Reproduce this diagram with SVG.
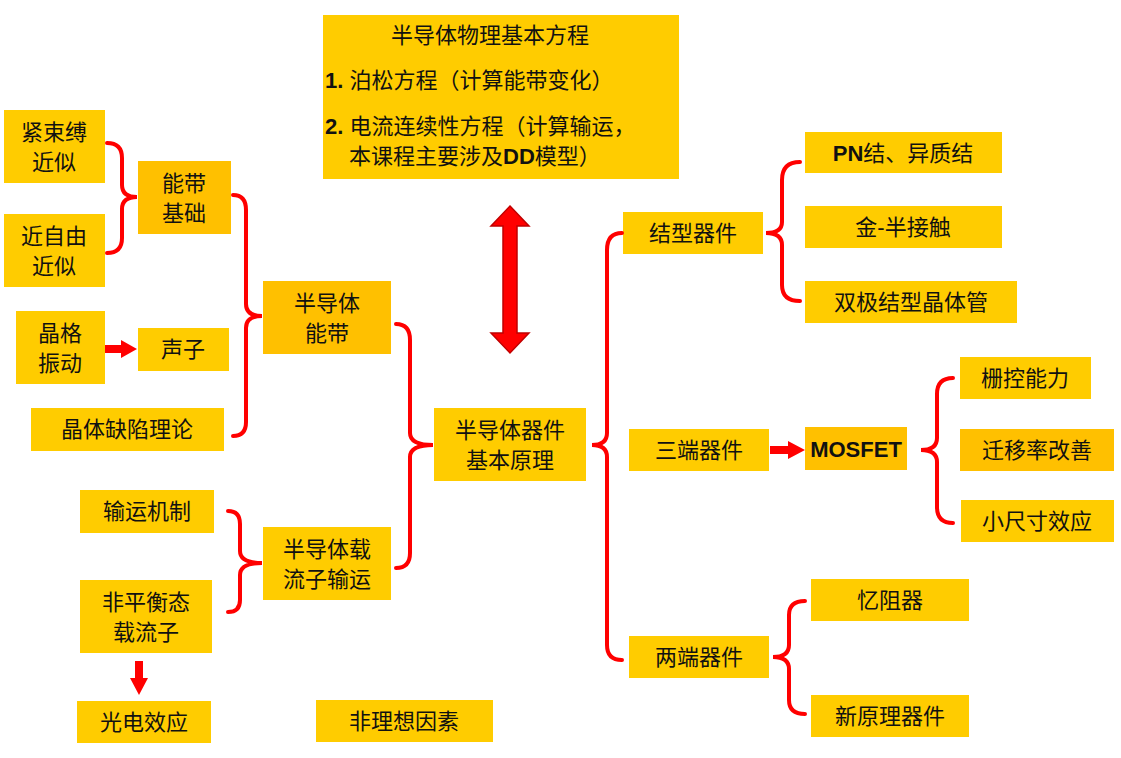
<svg xmlns="http://www.w3.org/2000/svg" width="1121" height="758" viewBox="0 0 1121 758">
<style>
.b{fill:#FFCC00}.d{fill:#FFC000}
text{font-family:"Liberation Sans","Noto Sans CJK SC",sans-serif;font-size:22px;fill:#111;text-anchor:middle}
.l{text-anchor:start}
.br{fill:none;stroke:#FF0000;stroke-width:4;stroke-linecap:round}
.ar{fill:#FF0000}
</style>
<rect width="1121" height="758" fill="#fff"/>
<g id="title"><rect class="b" x="323" y="15" width="356" height="164"/>
<text x="490" y="43">半导体物理基本方程</text>
<text class="l" x="325" y="88"><tspan font-weight="bold">1. </tspan>泊松方程（计算能带变化）</text>
<text class="l" x="325" y="134"><tspan font-weight="bold">2. </tspan>电流连续性方程（计算输运，</text>
<text class="l" x="349" y="164">本课程主要涉及<tspan font-weight="bold">DD</tspan>模型）</text></g>
<g id="n1"><rect class="b" x="4" y="110" width="101" height="73"/><text x="54" y="140">紧束缚</text><text x="54" y="170">近似</text></g>
<g id="n2"><rect class="b" x="4" y="214" width="101" height="73"/><text x="54" y="244">近自由</text><text x="54" y="274">近似</text></g>
<g id="n3"><rect class="d" x="138" y="161" width="93" height="73"/><text x="184" y="191">能带</text><text x="184" y="221">基础</text></g>
<g id="n4"><rect class="b" x="16" y="311" width="89" height="73"/><text x="60" y="341">晶格</text><text x="60" y="371">振动</text></g>
<g id="n5"><rect class="b" x="138" y="328" width="91" height="43"/><text x="183" y="357">声子</text></g>
<g id="n6"><rect class="b" x="31" y="408" width="193" height="43"/><text x="127" y="437">晶体缺陷理论</text></g>
<g id="n7"><rect class="d" x="263" y="281" width="128" height="73"/><text x="327" y="311">半导体</text><text x="327" y="341">能带</text></g>
<g id="n8"><rect class="b" x="80" y="490" width="134" height="43"/><text x="147" y="519">输运机制</text></g>
<g id="n9"><rect class="b" x="80" y="580" width="132" height="73"/><text x="146" y="610">非平衡态</text><text x="146" y="640">载流子</text></g>
<g id="n10"><rect class="b" x="263" y="527" width="128" height="73"/><text x="327" y="557">半导体载</text><text x="327" y="587">流子输运</text></g>
<g id="n11"><rect class="b" x="77" y="701" width="134" height="42"/><text x="144" y="730">光电效应</text></g>
<g id="n12"><rect class="b" x="316" y="700" width="177" height="42"/><text x="404" y="729">非理想因素</text></g>
<g id="n13"><rect class="b" x="434" y="408" width="152" height="73"/><text x="510" y="438">半导体器件</text><text x="510" y="468">基本原理</text></g>
<g id="n14"><rect class="b" x="623" y="212" width="140" height="42"/><text x="693" y="241">结型器件</text></g>
<g id="n15"><rect class="b" x="629" y="429" width="140" height="42"/><text x="699" y="458">三端器件</text></g>
<g id="n16"><rect class="b" x="629" y="636" width="140" height="42"/><text x="699" y="665">两端器件</text></g>
<g id="n17"><rect class="b" x="805" y="132" width="197" height="41"/><text x="903" y="161"><tspan font-weight="bold">PN</tspan>结、异质结</text></g>
<g id="n18"><rect class="b" x="805" y="206" width="197" height="42"/><text x="903" y="235">金-半接触</text></g>
<g id="n19"><rect class="b" x="805" y="281" width="212" height="42"/><text x="911" y="310">双极结型晶体管</text></g>
<g id="n20"><rect class="d" x="805" y="427" width="102" height="43"/><text x="856" y="457" font-weight="bold">MOSFET</text></g>
<g id="n21"><rect class="b" x="960" y="357" width="131" height="42"/><text x="1025" y="386">栅控能力</text></g>
<g id="n22"><rect class="d" x="960" y="429" width="154" height="42"/><text x="1037" y="458">迁移率改善</text></g>
<g id="n23"><rect class="b" x="961" y="500" width="153" height="42"/><text x="1037" y="529">小尺寸效应</text></g>
<g id="n24"><rect class="b" x="811" y="579" width="158" height="42"/><text x="890" y="608">忆阻器</text></g>
<g id="n25"><rect class="b" x="811" y="695" width="158" height="42"/><text x="890" y="724">新原理器件</text></g>
<g id="connectors">
<path class="br" d="M107,143 Q122,143 122,158 L122,185 Q122,197 137,197 Q122,197 122,209 L122,238 Q122,253 107,253"/>
<path class="br" d="M233,195 Q246,195 246,210 L246,304 Q246,316 262,316 Q246,316 246,328 L246,422 Q246,436 233,436"/>
<path class="br" d="M396,324 Q410,324 410,340 L410,433 Q410,445 433,445 Q410,445 410,457 L410,553 Q410,568 396,568"/>
<path class="br" d="M228,511 Q240,511 240,524 L240,551 Q240,563 262,563 Q240,563 240,575 L240,600 Q240,612 228,612"/>
<path class="br" d="M622,233 Q607,233 607,250 L607,433 Q607,445 592,445 Q607,445 607,457 L607,645 Q607,660 622,660"/>
<path class="br" d="M800,162 Q782,162 782,180 L782,222 Q782,233 766,233 Q782,233 782,245 L782,285 Q782,301 800,301"/>
<path class="br" d="M953,378 Q937,378 937,394 L937,438 Q937,450 921,450 Q937,450 937,462 L937,507 Q937,523 953,523"/>
<path class="br" d="M805,601 Q789,601 789,615 L789,645 Q789,657 773,657 Q789,657 789,669 L789,700 Q789,714 805,714"/>
<polygon class="ar" points="105,345 121,345 121,340 137,349 121,358 121,353 105,353"/>
<polygon class="ar" points="770,446 788,446 788,441 805,450 788,459 788,454 770,454"/>
<polygon class="ar" points="135,661 143,661 143,678 148,678 139,695 130,678 135,678"/>
<polygon class="ar" stroke="#C00000" stroke-width="1.5" points="510,206 529,226 517,226 517,333 529,333 510,353 491,333 503,333 503,226 491,226"/>
</g>
</svg>
